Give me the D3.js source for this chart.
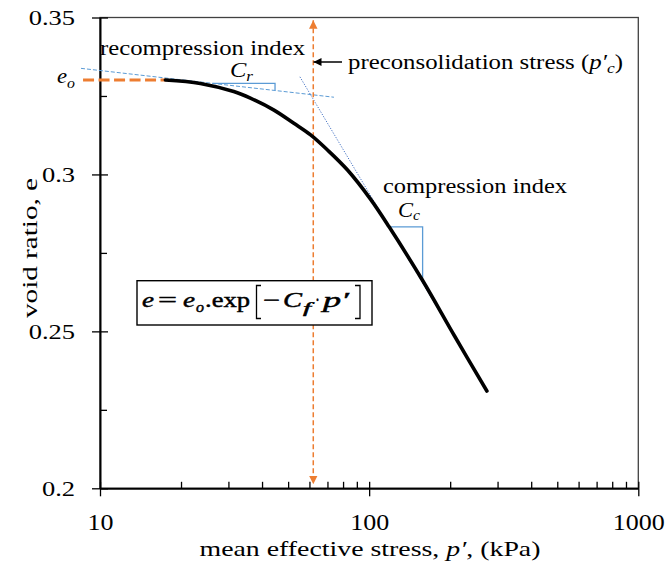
<!DOCTYPE html>
<html>
<head>
<meta charset="utf-8">
<script src="https://cdn.jsdelivr.net/npm/d3@7"></script>
<style>
  html, body { margin: 0; padding: 0; background: #fff; }
  svg { display: block; }
  svg text { font-family: "Liberation Serif", "Times New Roman", Tinos, "Nimbus Roman", "DejaVu Serif", serif; fill: #000; }
</style>
</head>
<body>
<svg id="chart" width="669" height="562"></svg>
<script>
// Measured compression curve: mean effective stress p' (kPa) vs void ratio e
const stressKPa = [17.5, 23.6, 31.4, 36.2, 44.3, 52.5, 60.6, 70.0, 83.1, 101, 118.6, 158, 207.4, 273.8];
const voidRatio = [0.3301, 0.3290, 0.3264, 0.3243, 0.3205, 0.3163, 0.3126, 0.3078, 0.3014, 0.2922, 0.2833, 0.2662, 0.2486, 0.2310];

// Axis ticks
const yTicks = [0.2, 0.25, 0.3, 0.35];
const yTickLabels = ["0.2", "0.25", "0.3", "0.35"];
const yMinorTicks = [0.225, 0.275, 0.325];
const xTicks = [10, 100, 1000];
const xTickLabels = ["10", "100", "1000"];
const xMinorTicks = [20, 30, 40, 50, 60, 70, 80, 90, 200, 300, 400, 500, 600, 700, 800, 900];

// Construction lines
const recompStress = [8.5, 74];
const recompVoid = [0.3338, 0.3246];
const compStress = [55.3, 273.8];
const compVoid = [0.3311, 0.2310];
const crTriStress = [26.2, 44.7];
const crTriVoid = [0.3290, 0.3268];
const ccTriStress = [118, 158];
const ccTriVoid = [0.2833, 0.2660];
const eoStress = [8.65, 17.5];
const eoVoid = 0.3301;
const preconStress = 62;

const svg = d3.select("#chart");
const x = d3.scaleLog().domain([10, 1000]).range([100, 638.3]);
const y = d3.scaleLinear().domain([0.2, 0.35]).range([488.3, 17.5]);

const ORANGE = "#ED7D31", BLUE = "#5B9BD5", BLUE_DARK = "#4472C4";
const SERIF = '"Liberation Serif", "Times New Roman", Tinos, "Nimbus Roman", "DejaVu Serif", serif';

// squeeze or widen a text element to a given width
function fit(sel, w) {
  sel.attr("textLength", w).attr("lengthAdjust", "spacingAndGlyphs");
}

// plot frame (top / right)
svg.append("rect")
  .attr("x", x.range()[0]).attr("y", y.range()[1])
  .attr("width", x.range()[1] - x.range()[0]).attr("height", y.range()[0] - y.range()[1])
  .attr("fill", "none").attr("stroke", "#404040").attr("stroke-width", 1.3);

// y axis
const yAxis = svg.append("g").attr("transform", `translate(${x.range()[0]},0)`)
  .call(d3.axisLeft(y).tickValues(yTicks).tickSize(8).tickSizeOuter(0).tickPadding(17)
    .tickFormat((d, i) => yTickLabels[i]));
yAxis.select(".domain").attr("stroke", "#000").attr("stroke-width", 2);
yAxis.selectAll(".tick line").attr("stroke", "#000").attr("stroke-width", 1.3);
yAxis.selectAll("text").attr("font-size", 22).attr("font-family", SERIF)
  .each(function (d, i) {
    const s = yTickLabels[i];
    fit(d3.select(this), (s.replace(".", "").length * 0.5 + 0.25) * 26.5);
  });
svg.append("g").attr("transform", `translate(${x.range()[0]},0)`)
  .call(d3.axisRight(y).tickValues(yTicks).tickSize(8).tickFormat(""))
  .call(g => g.select(".domain").remove())
  .selectAll("line").attr("stroke", "#000").attr("stroke-width", 1.3);
svg.append("g").attr("transform", `translate(${x.range()[0]},0)`)
  .call(d3.axisRight(y).tickValues(yMinorTicks).tickSize(7).tickFormat(""))
  .call(g => g.select(".domain").remove())
  .selectAll("line").attr("stroke", "#000").attr("stroke-width", 1.3);

// x axis
const xAxis = svg.append("g").attr("transform", `translate(0,${y.range()[0]})`)
  .call(d3.axisBottom(x).tickValues(xTicks).tickSize(8).tickSizeOuter(0).tickPadding(17)
    .tickFormat((d, i) => xTickLabels[i]));
xAxis.select(".domain").attr("stroke", "#000").attr("stroke-width", 2);
xAxis.selectAll(".tick line").attr("stroke", "#000").attr("stroke-width", 1.3);
xAxis.selectAll("text").attr("font-size", 24).attr("font-family", SERIF)
  .each(function (d, i) { fit(d3.select(this), xTickLabels[i].length * 13); });
svg.append("g").attr("transform", `translate(0,${y.range()[0]})`)
  .call(d3.axisTop(x).tickValues(xTicks.concat(xMinorTicks)).tickSize(6.5).tickFormat(""))
  .call(g => g.select(".domain").remove())
  .selectAll("line").attr("stroke", "#000").attr("stroke-width", 1.3);

// axis titles
const xTitle = svg.append("text").attr("x", 370).attr("y", 556).attr("text-anchor", "middle")
  .attr("font-size", 21);
xTitle.append("tspan").text("mean effective stress, ");
xTitle.append("tspan").attr("font-style", "italic").text("p′");
xTitle.append("tspan").text(", (kPa)");
fit(xTitle, 341);

svg.append("text").attr("transform", "translate(37,248) rotate(-90)")
  .attr("text-anchor", "middle").attr("font-size", 21).text("void ratio, e")
  .call(fit, 140);

// markers
const defs = svg.append("defs");
defs.append("marker").attr("id", "orangeHead").attr("viewBox", "0 0 10 10")
  .attr("refX", 10).attr("refY", 5).attr("markerWidth", 8.5).attr("markerHeight", 9)
  .attr("markerUnits", "userSpaceOnUse").attr("orient", "auto-start-reverse")
  .append("path").attr("d", "M0,0 L10,5 L0,10 Z").attr("fill", ORANGE);
defs.append("marker").attr("id", "blackHead").attr("viewBox", "0 0 10 10")
  .attr("refX", 10).attr("refY", 5).attr("markerWidth", 10).attr("markerHeight", 8)
  .attr("markerUnits", "userSpaceOnUse").attr("orient", "auto")
  .append("path").attr("d", "M0,0 L10,5 L0,10 Z").attr("fill", "#000");

// recompression line (dashed) and compression line (dotted)
svg.append("line")
  .attr("x1", x(recompStress[0])).attr("y1", y(recompVoid[0]))
  .attr("x2", x(recompStress[1])).attr("y2", y(recompVoid[1]))
  .attr("stroke", BLUE).attr("stroke-width", 1).attr("stroke-dasharray", "4,2");
svg.append("line")
  .attr("x1", x(compStress[0])).attr("y1", y(compVoid[0]))
  .attr("x2", x(compStress[1])).attr("y2", y(compVoid[1]))
  .attr("stroke", BLUE_DARK).attr("stroke-width", 1).attr("stroke-dasharray", "1.2,1.5");

// slope triangles
svg.append("path")
  .attr("d", `M${x(crTriStress[0])},${y(crTriVoid[0])}H${x(crTriStress[1])}V${y(crTriVoid[1])}`)
  .attr("fill", "none").attr("stroke", BLUE).attr("stroke-width", 1.3);
svg.append("path")
  .attr("d", `M${x(ccTriStress[0])},${y(ccTriVoid[0])}H${x(ccTriStress[1])}V${y(ccTriVoid[1])}`)
  .attr("fill", "none").attr("stroke", BLUE).attr("stroke-width", 1.3);

// e_o level
svg.append("line")
  .attr("x1", x(eoStress[0])).attr("y1", y(eoVoid))
  .attr("x2", x(eoStress[1])).attr("y2", y(eoVoid))
  .attr("stroke", ORANGE).attr("stroke-width", 3).attr("stroke-dasharray", "11,4.5");

// preconsolidation stress marker
svg.append("line")
  .attr("x1", x(preconStress)).attr("y1", y(0.3491))
  .attr("x2", x(preconStress)).attr("y2", y(0.2013))
  .attr("stroke", ORANGE).attr("stroke-width", 1.5).attr("stroke-dasharray", "5,3")
  .attr("marker-start", "url(#orangeHead)").attr("marker-end", "url(#orangeHead)");

// compression curve
const curveData = stressKPa.map((p, i) => ({ p, e: voidRatio[i] }));
svg.append("path").datum(curveData)
  .attr("d", d3.line().x(d => x(d.p)).y(d => y(d.e)).curve(d3.curveCatmullRom.alpha(0.5)))
  .attr("fill", "none").attr("stroke", "#000").attr("stroke-width", 3.6)
  .attr("stroke-linecap", "round").attr("stroke-linejoin", "round");

// annotations
svg.append("text").attr("x", 100).attr("y", 55).attr("font-size", 20)
  .text("recompression index").call(fit, 205);

const cr = svg.append("text").attr("x", 230).attr("y", 77).attr("font-size", 20).attr("font-style", "italic");
cr.append("tspan").text("C");
cr.append("tspan").attr("font-size", 14).attr("dy", 4).text("r");
fit(cr, 23);

const eo = svg.append("text").attr("x", 57).attr("y", 83).attr("font-size", 20).attr("font-style", "italic");
eo.append("tspan").text("e");
eo.append("tspan").attr("font-size", 14).attr("dy", 5).text("o");
fit(eo, 18);

svg.append("line").attr("x1", 342).attr("y1", 62).attr("x2", 313.5).attr("y2", 62)
  .attr("stroke", "#000").attr("stroke-width", 1.5).attr("marker-end", "url(#blackHead)");
const pc = svg.append("text").attr("x", 348).attr("y", 68.5).attr("font-size", 20);
pc.append("tspan").text("preconsolidation  stress (");
pc.append("tspan").attr("font-style", "italic").text("p′");
pc.append("tspan").attr("font-style", "italic").attr("font-size", 14).attr("dy", 4).text("c");
pc.append("tspan").attr("dy", -4).text(")");
fit(pc, 275);

svg.append("text").attr("x", 383).attr("y", 193).attr("font-size", 20)
  .text("compression index").call(fit, 184);

const cc = svg.append("text").attr("x", 398).attr("y", 216.5).attr("font-size", 20).attr("font-style", "italic");
cc.append("tspan").text("C");
cc.append("tspan").attr("font-size", 14).attr("dy", 3.5).text("c");
fit(cc, 22);

// equation box: e = e_o.exp[-C_f . p']
svg.append("rect").attr("x", 137).attr("y", 280.7).attr("width", 235).attr("height", 44.3)
  .attr("fill", "#fff").attr("stroke", "#000").attr("stroke-width", 1.4);
const eq = svg.append("g").attr("font-size", 21)
  .attr("stroke", "#000").attr("stroke-width", 0.45);
const eqBase = 307;
const eqPiece = (txt, x0, w, opts = {}) => {
  const t = eq.append("text").attr("x", x0).attr("y", eqBase + (opts.dy || 0)).text(txt);
  if (opts.italic) t.attr("font-style", "italic");
  if (opts.size) t.attr("font-size", opts.size);
  fit(t, w);
};
eqPiece("e", 142, 12, { italic: true });
eqPiece("=", 158, 19);
eqPiece("e", 183, 12, { italic: true });
eqPiece("o", 196, 8, { italic: true, size: 14, dy: 5 });
eqPiece(".exp", 205, 45);
eqPiece("−", 263, 17);
eqPiece("C", 283, 19, { italic: true });
eqPiece("f", 303, 8, { italic: true, size: 14, dy: 6 });
eqPiece("·", 315, 5);
eqPiece("p′", 323, 26, { italic: true });
svg.append("path").attr("d", "M261,285.5H256.5V318.5H261M355,285.5H360V318.5H355")
  .attr("fill", "none").attr("stroke", "#000").attr("stroke-width", 1.3);
</script>
</body>
</html>
